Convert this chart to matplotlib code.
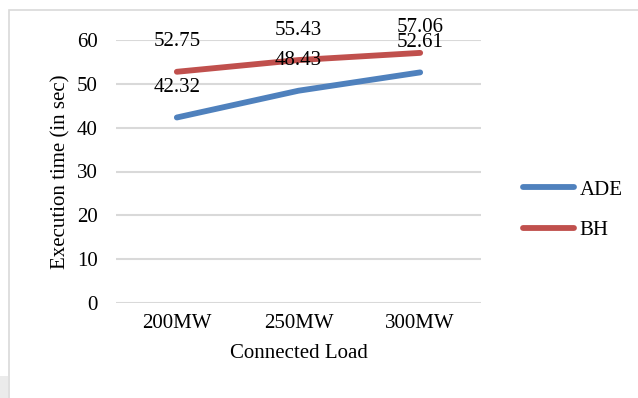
import matplotlib.pyplot as plt
from matplotlib.patches import Rectangle

loads = ['200MW', '250MW', '300MW']
ade = [42.32, 48.43, 52.61]
bh = [52.75, 55.43, 57.06]
# vertical offset (points) of each value label above its point
ade_lift = [21.5, 21.5, 21.5]
bh_lift = [21.5, 21.5, 18]

plt.rcParams['font.family'] = ['Liberation Serif', 'DejaVu Serif']
plt.rcParams['font.size'] = 15

fig = plt.figure(figsize=(6.38, 3.98), dpi=100)
ax = fig.add_axes([116 / 638, 1 - 303 / 398, (481 - 116) / 638, (303 - 40) / 398])

x = range(len(loads))
ax.plot(x, ade, color='#4F81BD', lw=4.2, solid_capstyle='round', label='ADE')
ax.plot(x, bh, color='#C0504D', lw=4.2, solid_capstyle='round', label='BH')

for xi, v, d in zip(x, ade, ade_lift):
    ax.annotate('{:.2f}'.format(v), (xi, v), xytext=(0, d), textcoords='offset points',
                ha='center', va='center', color='black')
for xi, v, d in zip(x, bh, bh_lift):
    ax.annotate('{:.2f}'.format(v), (xi, v), xytext=(0, d), textcoords='offset points',
                ha='center', va='center', color='black')

ax.set_xlim(-0.5, 2.5)
ax.set_ylim(0, 60)
ax.set_yticks(range(0, 61, 10))
ax.set_xticks(list(x))
ax.set_xticklabels(loads)
ax.grid(axis='y', color='#D9D9D9', lw=1.5)
ax.set_axisbelow(True)
for s in ax.spines.values():
    s.set_visible(False)
ax.tick_params(length=0, pad=8)
ax.tick_params(axis='y', pad=13)
ax.set_xlabel('Connected Load', labelpad=8)
ax.set_ylabel('Execution time (in sec)', labelpad=5)

fig.legend(loc='center left', bbox_to_anchor=(504 / 638, 1 - 210 / 398), frameon=False,
           handlelength=2.45, labelspacing=1.0, handletextpad=0.27)

# chart border
fig.patches.append(Rectangle((9 / 638, -0.1), 1.2, 1 - 10 / 398 + 0.1, transform=fig.transFigure,
                             fill=False, edgecolor='#D9D9D9', lw=1.2))
fig.patches.append(Rectangle((0, 0), 8 / 638, 22 / 398, transform=fig.transFigure,
                             facecolor='#EBEBEB', edgecolor='none'))

fig.savefig('out.png', dpi=100)
